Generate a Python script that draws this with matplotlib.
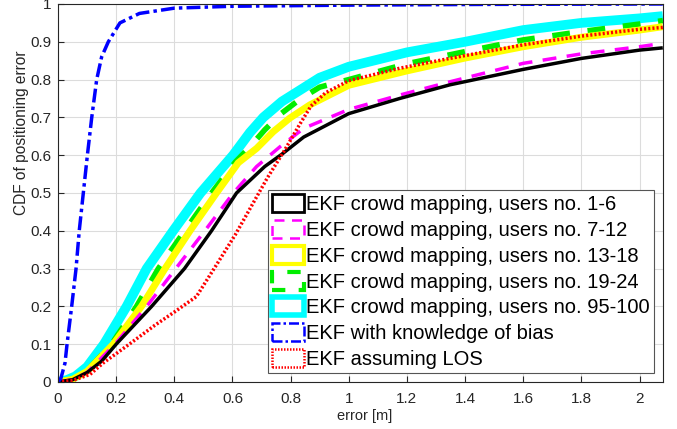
import numpy as np
import matplotlib.pyplot as plt
import matplotlib.patches as mpatches

# --- Data (error [m] vs CDF) ---
bias_x = [0, 0.01, 0.024, 0.031, 0.047, 0.062, 0.073, 0.087, 0.101, 0.116, 0.133, 0.15,
          0.173, 0.213, 0.28, 0.4, 0.6, 1.0, 1.5, 2.08]
bias_y = [0, 0.01, 0.05, 0.1, 0.2, 0.3, 0.4, 0.5, 0.6, 0.7, 0.8, 0.86,
          0.9, 0.95, 0.975, 0.989, 0.994, 0.997, 0.999, 1.0]

u95_x = [0, 0.03, 0.06, 0.1, 0.158, 0.236, 0.305, 0.396, 0.49, 0.602, 0.66, 0.706, 0.77,
         0.832, 0.9, 1.0, 1.2, 1.4, 1.6, 1.8, 2.0, 2.08]
u95_y = [0, 0.005, 0.015, 0.04, 0.1, 0.2, 0.3, 0.4, 0.5, 0.6, 0.66, 0.7, 0.742,
         0.772, 0.805, 0.834, 0.872, 0.9, 0.931, 0.95, 0.962, 0.968]

u19_x = [0, 0.05, 0.1, 0.184, 0.27, 0.345, 0.436, 0.528, 0.61, 0.66, 0.711, 0.769,
         0.832, 0.9, 1.0, 1.2, 1.4, 1.6, 1.8, 2.0, 2.08]
u19_y = [0, 0.008, 0.03, 0.1, 0.2, 0.3, 0.4, 0.5, 0.582, 0.622, 0.667, 0.711,
         0.748, 0.78, 0.8, 0.842, 0.874, 0.905, 0.927, 0.947, 0.956]

u13_x = [0, 0.05, 0.1, 0.19, 0.287, 0.368, 0.454, 0.545, 0.62, 0.683, 0.74, 0.797,
         0.866, 1.0, 1.2, 1.4, 1.6, 1.8, 2.0, 2.08]
u13_y = [0, 0.007, 0.028, 0.1, 0.2, 0.3, 0.4, 0.5, 0.58, 0.618, 0.662, 0.698,
         0.733, 0.785, 0.823, 0.857, 0.887, 0.912, 0.931, 0.94]

u7_x = [0, 0.05, 0.1, 0.196, 0.305, 0.405, 0.505, 0.603, 0.683, 0.763, 0.845, 1.0,
        1.175, 1.347, 1.6, 1.8, 2.0, 2.08]
u7_y = [0, 0.006, 0.025, 0.1, 0.2, 0.3, 0.4, 0.5, 0.57, 0.622, 0.671, 0.721,
        0.759, 0.794, 0.843, 0.868, 0.887, 0.896]

u1_x = [0, 0.05, 0.1, 0.15, 0.2, 0.322, 0.435, 0.528, 0.614, 0.711, 0.774, 0.845,
        1.0, 1.175, 1.347, 1.6, 1.8, 2.0, 2.08]
u1_y = [0, 0.006, 0.025, 0.055, 0.1, 0.2, 0.3, 0.4, 0.5, 0.57, 0.605, 0.648,
        0.71, 0.75, 0.786, 0.827, 0.856, 0.878, 0.884]

los_x = [0, 0.05, 0.11, 0.155, 0.245, 0.333, 0.4, 0.476, 0.545, 0.61, 0.665, 0.72,
         0.78, 0.83, 0.87, 0.92, 1.0, 1.175, 1.347, 1.6, 1.8, 2.0, 2.08]
los_y = [0, 0.004, 0.02, 0.05, 0.1, 0.15, 0.185, 0.226, 0.31, 0.39, 0.465, 0.54,
         0.614, 0.68, 0.73, 0.765, 0.797, 0.83, 0.856, 0.892, 0.915, 0.933, 0.938]

labels = [
    "EKF crowd mapping, users no. 1-6",
    "EKF crowd mapping, users no. 7-12",
    "EKF crowd mapping, users no. 13-18",
    "EKF crowd mapping, users no. 19-24",
    "EKF crowd mapping, users no. 95-100",
    "EKF with knowledge of bias",
    "EKF assuming LOS",
]

plt.rcParams['font.family'] = ['Liberation Sans', 'DejaVu Sans']

fig = plt.figure(figsize=(6.77, 4.29), dpi=100)
ax = fig.add_axes([0.0857, 0.1096, 0.8933, 0.8811])

# (x, y, colour, linestyle, line width, legend edge width)
series = [
    (u95_x, u95_y, '#00ffff', '-', 7.0, 4.0),
    (u19_x, u19_y, '#00ee00', (0, (3.2, 3.2)), 4.0, 3.0),
    (u13_x, u13_y, '#ffff00', '-', 5.0, 3.0),
    (u7_x, u7_y, '#ff00ff', (0, (4, 3)), 2.5, 1.8),
    (u1_x, u1_y, 'black', '-', 2.5, 2.0),
    (los_x, los_y, '#ff0000', (0, (0.6, 0.6)), 2.5, 1.8),
    (bias_x, bias_y, '#0000ff', (0, (4, 1.2, 1, 1.2)), 2.5, 1.8),
]
for x, y, c, ls, lw, _ in series:
    ax.plot(x, y, color=c, linestyle=ls, linewidth=lw, solid_capstyle='butt')

# legend handles drawn as outlined boxes, like the original
order = [4, 3, 2, 1, 0, 6, 5]
handles = []
for i in order:
    _, _, c, ls, _, elw = series[i]
    handles.append(mpatches.Patch(facecolor='none', edgecolor=c, linestyle=ls, linewidth=elw))

leg = ax.legend(handles, labels, loc='lower left', bbox_to_anchor=(0.347, 0.024),
                borderaxespad=0, fontsize=14.5, handlelength=1.6, handleheight=1.0,
                handletextpad=0.1, labelspacing=0.29, borderpad=0.2, fancybox=False,
                framealpha=1, edgecolor='#555555')
leg.get_frame().set_linewidth(0.8)

ax.set_xlim(0, 2.08)
ax.set_ylim(0, 1)
ax.set_xticks(np.arange(0, 2.01, 0.2))
ax.set_xticklabels(['0', '0.2', '0.4', '0.6', '0.8', '1', '1.2', '1.4', '1.6', '1.8', '2'])
ax.set_yticks(np.arange(0, 1.01, 0.1))
ax.set_yticklabels(['0', '0.1', '0.2', '0.3', '0.4', '0.5', '0.6', '0.7', '0.8', '0.9', '1'])
ax.tick_params(direction='in', labelsize=11, colors='#262626', length=4)
ax.tick_params(axis='x', pad=7)
ax.tick_params(axis='y', pad=5)
ax.grid(True, color='#dcdcdc', linewidth=0.8)
ax.set_axisbelow(True)
for s in ax.spines.values():
    s.set_color('#262626')
    s.set_linewidth(0.8)

ax.set_xlabel("error [m]", fontsize=10.5, color='#262626')
ax.set_ylabel("CDF of positioning error", fontsize=11.2, color='#262626')
ax.xaxis.set_label_coords(0.507, -0.072)
ax.yaxis.set_label_coords(-0.048, 0.66)

fig.savefig("out.png", dpi=100)
